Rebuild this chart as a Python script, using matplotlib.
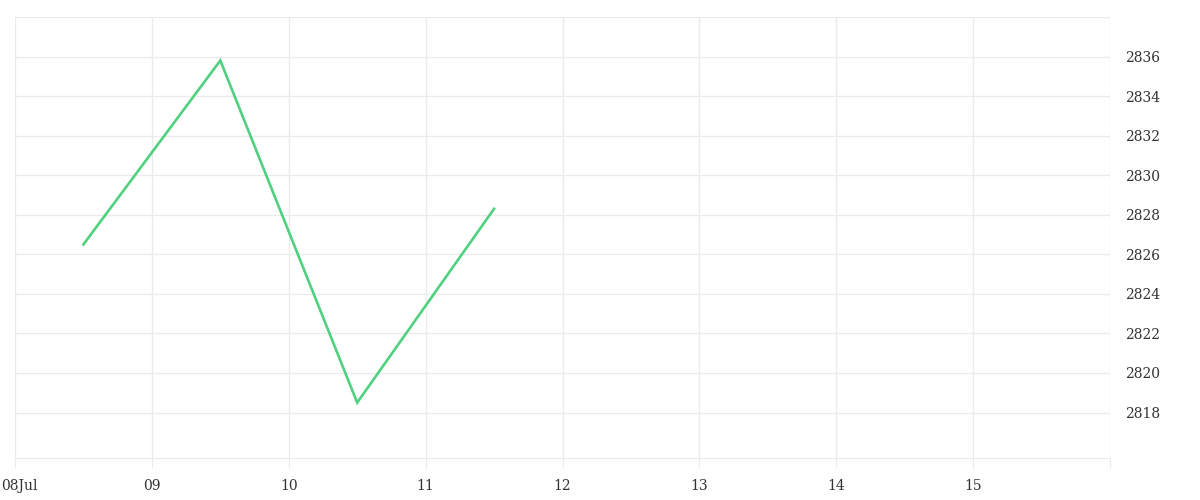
import numpy as np
import matplotlib.pyplot as plt
import matplotlib.dates as mdates
from matplotlib.transforms import ScaledTranslation

plt.rcParams['font.family'] = ['DejaVu Serif']

# data
times = np.array(['2024-07-08T12:00', '2024-07-09T12:00', '2024-07-10T12:00',
                  '2024-07-11T12:00'], dtype='datetime64[m]')
values = [2826.5, 2835.8, 2818.5, 2828.3]
tick_days = np.arange(np.datetime64('2024-07-08'), np.datetime64('2024-07-17'))
tick_labels = ['08Jul', '09', '10', '11', '12', '13', '14', '15', '']
y_ticks = [2818, 2820, 2822, 2824, 2826, 2828, 2830, 2832, 2834, 2836]

fig = plt.figure(figsize=(12, 5), dpi=100)
ax = fig.add_axes([15 / 1200, 42 / 500, 1095 / 1200, 441 / 500])

ax.plot(times, values, color='#4fd17f', linewidth=1.9, solid_joinstyle='miter')

ax.set_xlim(tick_days[0], tick_days[-1])
ax.set_ylim(2815.7, 2838)

ax.set_xticks(tick_days)
ax.set_xticklabels(tick_labels)
ax.set_yticks(y_ticks + [2838])
ax.set_yticklabels([str(v) for v in y_ticks] + [''])

ax.yaxis.tick_right()
ax.grid(True, color='#ebebeb', linewidth=1)
ax.set_axisbelow(True)
for s in ['top', 'right', 'left']:
    ax.spines[s].set_visible(False)
ax.spines['bottom'].set_color('#ebebeb')

ax.tick_params(axis='x', length=7, color='#ebebeb', labelsize=10, pad=8, labelcolor='#333333')
ax.tick_params(axis='y', length=0, labelsize=10, pad=11, labelcolor='#333333')

# keep the first date label inside the figure
first = ax.get_xticklabels()[0]
first.set_horizontalalignment('left')
first.set_transform(first.get_transform() + ScaledTranslation(-14 / 100, 0, fig.dpi_scale_trans))

plt.savefig('out.png', dpi=100)
